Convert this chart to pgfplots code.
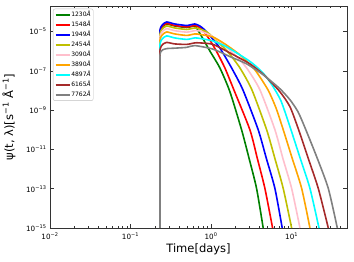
\documentclass[border=0pt]{standalone}
\usepackage{fontspec}
\setmainfont{DejaVu Sans}
\usepackage{pgfplots}
\pgfplotsset{compat=1.18}
\definecolor{mgreen}{rgb}{0,0.5,0}
\definecolor{mred}{rgb}{1,0,0}
\definecolor{mblue}{rgb}{0,0,1}
\definecolor{myellow}{rgb}{0.75,0.75,0}
\definecolor{mpink}{rgb}{1,0.75,0.8}
\definecolor{morange}{rgb}{1,0.647,0}
\definecolor{mcyan}{rgb}{0,1,1}
\definecolor{mbrown}{rgb}{0.647,0.165,0.165}
\definecolor{mgray}{rgb}{0.5,0.5,0.5}
\begin{document}
\begin{tikzpicture}
\useasboundingbox (-50pt,-34pt) rectangle (304pt,228pt);
\begin{axis}[
  at={(0pt,0pt)}, anchor=south west,
  width=297pt, height=222pt, scale only axis,
  xmode=log, ymode=log,
  xmin=0.01, xmax=48.7, ymin=1e-15, ymax=2.02e-4,
  xtick={0.01,0.1,1,10},
  xticklabels={10\textsuperscript{−2},10\textsuperscript{−1},10\textsuperscript{0},10\textsuperscript{1}},
  minor xtick={0.02,0.03,0.04,0.05,0.06,0.07,0.08,0.09,0.2,0.3,0.4,0.5,0.6,0.7,0.8,0.9,2,3,4,5,6,7,8,9,20,30,40},
  ytick={1e-15,1e-13,1e-11,1e-9,1e-7,1e-5},
  yticklabels={10\textsuperscript{−15},10\textsuperscript{−13},10\textsuperscript{−11},10\textsuperscript{−9},10\textsuperscript{−7},10\textsuperscript{−5}},
  yminorticks=false,
  major tick length=4pt, minor tick length=2pt,
  tick style={black!80, line width=0.5pt},
  axis line style={black!80, line width=0.6pt},
  tick label style={font=\fontsize{7.2}{8}\selectfont},
  xticklabel style={yshift=-1pt},
  xlabel={Time[days]},
  ylabel={ψ(t, λ)[s\textsuperscript{−1} Å\textsuperscript{−1}]},
  label style={font=\fontsize{11.5}{13}\selectfont},
  xlabel style={at={(axis description cs:0.5,0)}, anchor=north, yshift=-12pt},
  ylabel style={at={(axis description cs:0,0.5)}, anchor=south, yshift=31pt},
  legend cell align=left,
  legend style={at={(0.01,0.988)}, anchor=north west, draw=black!25, rounded corners=2pt,
    font=\fontsize{6}{6.5}\selectfont, row sep=0.9pt, inner sep=1.5pt,
    nodes={inner sep=1pt}},
  legend image code/.code={\draw[mark repeat=2,mark phase=2] plot coordinates {(0pt,0pt)(7pt,0pt)(14pt,0pt)};},
  legend image post style={line width=1.7pt},
  every axis plot/.append style={line width=1.6pt, line join=round},
  curve/.style={smooth, tension=0.4},
]
\addplot[mgreen, forget plot] coordinates {(0.231,1e-15)(0.231,8.59e-6)};
\addplot[mgreen, curve] coordinates {(0.231,8.59e-6)(0.2367,1.29e-5)(0.2507,1.84e-5)(0.2812,2.46e-5)(0.3535,1.95e-5)(0.4986,1.63e-5)(0.6268,1.95e-5)(0.6833,1.22e-5)(0.7447,6.80e-6)(0.8348,3.00e-6)(0.9634,1.05e-6)(1.283,1.44e-7)(1.708,9.00e-9)(2.388,1.02e-10)(2.944,3.88e-12)(3.670,1.04e-13)(4.435,1e-15)};
\addlegendentry{1230\textit{Å}}
\addplot[mred, forget plot] coordinates {(0.231,1e-15)(0.231,9.11e-6)};
\addplot[mred, curve] coordinates {(0.231,9.11e-6)(0.2367,1.37e-5)(0.2507,1.95e-5)(0.2812,2.61e-5)(0.3535,2.06e-5)(0.4986,1.73e-5)(0.6268,2.06e-5)(0.6833,1.84e-5)(0.7885,1.22e-5)(0.9634,3.79e-6)(1.177,9.32e-7)(1.481,1.44e-7)(1.916,1.10e-8)(3.029,1.02e-10)(3.755,3.45e-12)(4.656,1.04e-13)(5.803,1e-15)};
\addlegendentry{1548\textit{Å}}
\addplot[mblue, forget plot] coordinates {(0.231,1e-15)(0.231,1.09e-5)};
\addplot[mblue, curve] coordinates {(0.231,1.09e-5)(0.2367,1.63e-5)(0.2507,2.32e-5)(0.2812,3.11e-5)(0.3535,2.46e-5)(0.4986,2.06e-5)(0.6268,2.46e-5)(0.7237,1.95e-5)(0.8348,1.22e-5)(1.020,4.79e-6)(1.283,1.49e-6)(1.794,1.44e-7)(2.479,1.10e-8)(3.842,1.02e-10)(4.86,3.45e-12)(6.199,1.04e-13)(7.641,1e-15)};
\addlegendentry{1949\textit{Å}}
\addplot[myellow, forget plot] coordinates {(0.231,1e-15)(0.231,6.80e-6)};
\addplot[myellow, curve] coordinates {(0.231,6.80e-6)(0.2367,1.02e-5)(0.2507,1.45e-5)(0.2812,1.95e-5)(0.3535,1.54e-5)(0.4986,1.29e-5)(0.6268,1.54e-5)(0.7237,1.37e-5)(0.8843,9.66e-6)(1.112,4.26e-6)(1.613,9.32e-7)(2.275,1.44e-7)(3.208,1.10e-8)(4.889,1.02e-10)(6.199,3.45e-12)(7.862,1.04e-13)(10.0,1e-15)};
\addlegendentry{2454\textit{Å}}
\addplot[mpink, forget plot] coordinates {(0.231,1e-15)(0.231,4.96e-6)};
\addplot[mpink, curve] coordinates {(0.231,4.96e-6)(0.2367,7.47e-6)(0.2507,1.06e-5)(0.2812,1.42e-5)(0.3535,1.12e-5)(0.4986,9.43e-6)(0.6268,1.12e-5)(0.7237,1.09e-5)(0.9634,6.80e-6)(1.283,3.00e-6)(1.972,6.57e-7)(2.756,1.44e-7)(4.034,1.10e-8)(6.199,1.02e-10)(7.796,3.45e-12)(10.0,1.04e-13)(12.69,1e-15)};
\addlegendentry{3090\textit{Å}}
\addplot[morange, forget plot] coordinates {(0.231,1e-15)(0.231,3.37e-6)};
\addplot[morange, curve] coordinates {(0.231,3.37e-6)(0.2367,5.08e-6)(0.2507,7.21e-6)(0.2812,9.66e-6)(0.3535,7.64e-6)(0.4986,6.41e-6)(0.6268,7.64e-6)(0.7237,7.21e-6)(1.050,5.38e-6)(1.481,2.37e-6)(2.275,6.57e-7)(3.496,1.14e-7)(5.074,1.10e-8)(6.378,1.34e-9)(7.862,1.02e-10)(10.09,3.88e-12)(13.32,1.04e-13)(16.89,1e-15)};
\addlegendentry{3890\textit{Å}}
\addplot[mcyan, forget plot] coordinates {(0.231,1e-15)(0.231,2.11e-6)};
\addplot[mcyan, curve] coordinates {(0.231,2.11e-6)(0.2367,3.18e-6)(0.2507,4.52e-6)(0.2812,6.05e-6)(0.3535,4.79e-6)(0.4986,4.02e-6)(0.6268,4.79e-6)(0.7237,4.52e-6)(1.050,3.37e-6)(1.481,1.88e-6)(2.275,6.57e-7)(3.208,2.58e-7)(4.395,8.01e-8)(5.689,1.97e-8)(7.361,3.04e-9)(9.526,1.45e-10)(12.69,3.88e-12)(16.89,1.04e-13)(21.86,1e-15)};
\addlegendentry{4897\textit{Å}}
\addplot[mbrown, forget plot] coordinates {(0.231,1e-15)(0.231,1.05e-6)};
\addplot[mbrown, curve] coordinates {(0.231,1.05e-6)(0.2367,1.58e-6)(0.2507,2.24e-6)(0.2812,2.83e-6)(0.3535,2.37e-6)(0.4986,2.24e-6)(0.6268,2.67e-6)(0.7237,2.67e-6)(1.059,2.24e-6)(1.708,8.29e-7)(3.029,2.29e-7)(4.656,5.64e-8)(7.153,8.69e-9)(9.526,1.51e-9)(12.08,1.15e-10)(15.95,3.88e-12)(21.42,1.04e-13)(28.52,1e-15)};
\addlegendentry{6165\textit{Å}}
\addplot[mgray, forget plot] coordinates {(0.231,1e-15)(0.231,5.84e-7)};
\addplot[mgray, curve] coordinates {(0.231,5.84e-7)(0.2367,9.32e-7)(0.2507,1.18e-6)(0.2812,1.37e-6)(0.3535,1.44e-6)(0.4986,1.58e-6)(0.6268,1.95e-6)(1.059,1.28e-6)(1.708,5.38e-7)(2.756,2.29e-7)(4.435,6.34e-8)(7.153,1.23e-8)(9.526,3.41e-9)(11.98,8.39e-10)(14.64,1.29e-10)(20.64,3.88e-12)(28.52,1.04e-13)(36.92,1e-15)};
\addlegendentry{7762\textit{Å}}
\end{axis}
\end{tikzpicture}
\end{document}
